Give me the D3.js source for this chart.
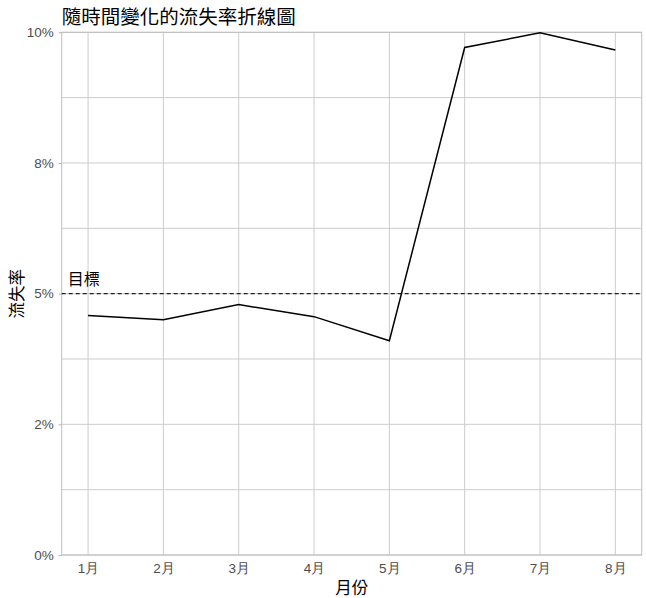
<!DOCTYPE html>
<html>
<head>
<meta charset="utf-8">
<script src="https://cdn.jsdelivr.net/npm/d3@7"></script>
<style>
  body { margin: 0; background: #fff; }
  svg { display: block; font-family: "Liberation Sans", "Noto Sans CJK TC", sans-serif; }
</style>
</head>
<body>
<div id="chart"></div>
<script>
// Monthly churn rate
const months = ['1月', '2月', '3月', '4月', '5月', '6月', '7月', '8月'];
const churnRate = [0.0458, 0.0450, 0.0479, 0.0456, 0.0410, 0.0971, 0.0999, 0.0966];
const yTicks = [0, 0.025, 0.05, 0.075, 0.1];
const yTickLabels = ['0%', '2%', '5%', '8%', '10%'];
const yMinorTicks = [0.0125, 0.0375, 0.0625, 0.0875];
const target = 0.05;

const WIDTH = 646, HEIGHT = 598;
const margin = { top: 32.3, right: 4.3, bottom: 43, left: 61.7 };
const innerW = WIDTH - margin.left - margin.right;
const innerH = HEIGHT - margin.top - margin.bottom;

const svg = d3.select('#chart').append('svg')
    .attr('width', WIDTH)
    .attr('height', HEIGHT);

const g = svg.append('g')
    .attr('transform', `translate(${margin.left},${margin.top})`);

// x is continuous 1..8 with ggplot-style 5% expansion
const xScale = d3.scaleLinear()
    .domain([1 - 0.35, months.length + 0.35])
    .range([0, innerW]);
const yScale = d3.scaleLinear()
    .domain([0, 0.1])
    .range([innerH, 0]);

const GRID = '#cccccc';

// Grid lines
g.selectAll('.ygrid')
    .data(yTicks.concat(yMinorTicks))
    .enter()
    .append('line')
        .attr('x1', 0)
        .attr('x2', innerW)
        .attr('y1', d => yScale(d))
        .attr('y2', d => yScale(d))
        .attr('stroke', GRID)
        .attr('stroke-width', 1);

g.selectAll('.xgrid')
    .data(months)
    .enter()
    .append('line')
        .attr('x1', (d, i) => xScale(i + 1))
        .attr('x2', (d, i) => xScale(i + 1))
        .attr('y1', 0)
        .attr('y2', innerH)
        .attr('stroke', GRID)
        .attr('stroke-width', 1);

// Panel border
g.append('rect')
    .attr('width', innerW)
    .attr('height', innerH)
    .attr('fill', 'none')
    .attr('stroke', '#bdbdbd')
    .attr('stroke-width', 1);

// Y axis (labels rounded the way R does: 2.5% -> 2%, 7.5% -> 8%)
const yAxis = d3.axisLeft(yScale)
    .tickValues(yTicks)
    .tickSize(3)
    .tickPadding(5)
    .tickFormat((d, i) => yTickLabels[i]);
const yAxisG = g.append('g').call(yAxis);
yAxisG.select('.domain').remove();
yAxisG.selectAll('line').attr('stroke', '#b3b3b3');
yAxisG.selectAll('text')
    .attr('fill', '#4d4d4d')
    .attr('font-size', 13.5);

// X axis
const xAxis = d3.axisBottom(xScale)
    .tickValues(d3.range(1, months.length + 1))
    .tickSize(0)
    .tickPadding(8)
    .tickFormat(d => months[d - 1]);
const xAxisG = g.append('g')
    .attr('transform', `translate(0,${innerH})`)
    .call(xAxis);
xAxisG.select('.domain').remove();
xAxisG.selectAll('text')
    .attr('fill', '#4d4d4d')
    .attr('font-size', 13.5);

// Target line
g.append('line')
    .attr('x1', 0)
    .attr('x2', innerW)
    .attr('y1', yScale(target))
    .attr('y2', yScale(target))
    .attr('stroke', '#222')
    .attr('stroke-width', 1.2)
    .attr('stroke-dasharray', '4,3');

g.append('text')
    .attr('x', 6)
    .attr('y', yScale(target) - 9)
    .attr('font-size', 16)
    .attr('fill', '#000')
    .text('目標');

// Churn line
const line = d3.line()
    .x((d, i) => xScale(i + 1))
    .y(d => yScale(d));
g.append('path')
    .datum(churnRate)
    .attr('d', line)
    .attr('fill', 'none')
    .attr('stroke', '#000')
    .attr('stroke-width', 1.5);

// Title and axis titles
svg.append('text')
    .attr('x', margin.left)
    .attr('y', 24)
    .attr('font-size', 19.5)
    .attr('fill', '#000')
    .text('隨時間變化的流失率折線圖');

svg.append('text')
    .attr('transform', `translate(${margin.left + innerW / 2},${HEIGHT - 4})`)
    .attr('font-size', 16.5)
    .attr('fill', '#000')
    .style('text-anchor', 'middle')
    .text('月份');

svg.append('text')
    .attr('transform', `translate(23,${margin.top + innerH / 2}) rotate(-90)`)
    .attr('font-size', 16.5)
    .attr('fill', '#000')
    .style('text-anchor', 'middle')
    .text('流失率');
</script>
</body>
</html>
